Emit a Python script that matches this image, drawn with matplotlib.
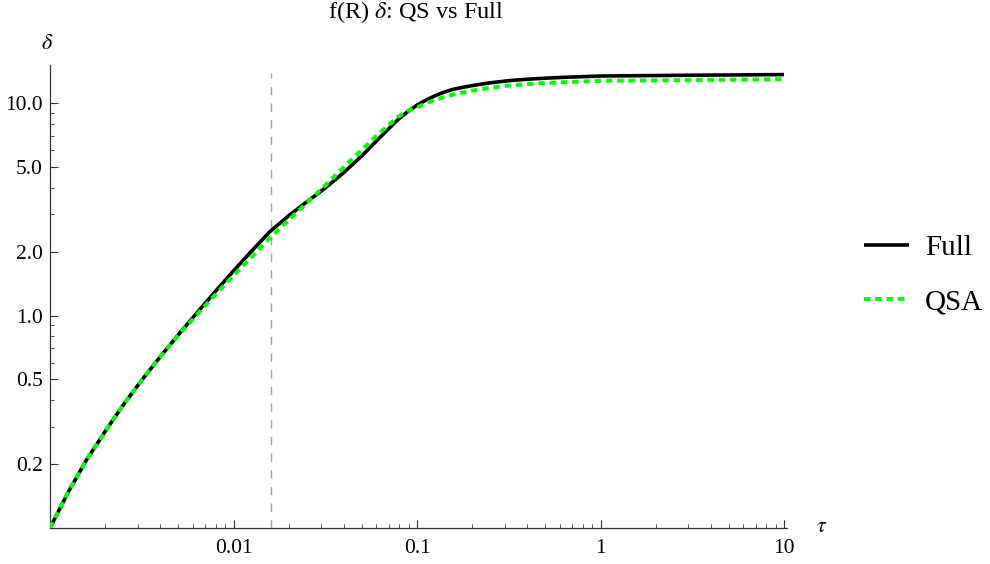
import matplotlib
matplotlib.use("Agg")
import matplotlib.pyplot as plt
from matplotlib.ticker import FixedLocator, FixedFormatter, NullFormatter

# growth of delta vs tau, full solution and quasi-static approximation
tau = [0.001, 0.00126, 0.00158, 0.002, 0.00251, 0.00316, 0.00398, 0.00501,
       0.00631, 0.00794, 0.01, 0.0126, 0.0158, 0.02, 0.0251, 0.0316, 0.0398,
       0.0501, 0.0631, 0.0794, 0.0891, 0.1, 0.112, 0.126, 0.141, 0.158,
       0.178, 0.2, 0.251, 0.316, 0.398, 0.501, 0.631, 1.0, 3.16, 10.0]

delta_full = [0.1, 0.148, 0.209, 0.285, 0.380, 0.496, 0.638, 0.813,
              1.028, 1.294, 1.622, 2.018, 2.483, 2.951, 3.428, 3.981, 4.699,
              5.649, 6.918, 8.414, 9.12, 9.772, 10.33, 10.84, 11.27, 11.61,
              11.86, 12.08, 12.45, 12.74, 12.94, 13.09, 13.21, 13.40, 13.52, 13.61]

delta_qsa = [0.1, 0.148, 0.209, 0.285, 0.380, 0.496, 0.638, 0.807,
             1.009, 1.250, 1.542, 1.892, 2.317, 2.818, 3.388, 4.093, 4.977,
             6.026, 7.278, 8.650, 9.183, 9.550, 9.954, 10.35, 10.69, 10.96,
             11.22, 11.43, 11.80, 12.08, 12.27, 12.42, 12.53, 12.71, 12.82, 12.94]

tau_mark = 0.0161

x_major = [0.01, 0.1, 1, 10]
x_major_labels = ["0.01", "0.1", "1", "10"]
y_major = [0.2, 0.5, 1.0, 2.0, 5.0, 10.0]
y_major_labels = ["0.2", "0.5", "1.0", "2.0", "5.0", "10.0"]
y_minor = [0.3, 0.4, 0.6, 0.7, 0.8, 0.9, 3, 4, 6, 7, 8, 9]

plt.rcParams["font.family"] = "Liberation Serif"
plt.rcParams["mathtext.fontset"] = "stix"

fig = plt.figure(figsize=(9.9, 5.64), dpi=100)
ax = fig.add_axes([50 / 990, 1 - 528 / 564, 737 / 990, 463 / 564])
ax.set_xscale("log")
ax.set_yscale("log")
ax.set_xlim(0.001, 10.38)
ax.set_ylim(0.1, 15.1)

ax.vlines(tau_mark, 0.1, 13.8, colors="#a0a0a0", linewidth=1.0,
          linestyles=(0, (6, 6)), zorder=1)

ax.plot(tau, delta_full, color="black", linewidth=2.6,
        solid_capstyle="butt", solid_joinstyle="round", label="Full", zorder=2)
ax.plot(tau, delta_qsa, color="#00ff00", linewidth=2.9,
        dashes=(1.6, 1.2), dash_capstyle="butt", label="QSA", zorder=3)

for side in ["top", "right"]:
    ax.spines[side].set_visible(False)
for side in ["left", "bottom"]:
    ax.spines[side].set_linewidth(0.9)
    ax.spines[side].set_color("#333333")

ax.xaxis.set_major_locator(FixedLocator(x_major))
ax.xaxis.set_major_formatter(FixedFormatter(x_major_labels))
ax.xaxis.set_minor_formatter(NullFormatter())
ax.yaxis.set_major_locator(FixedLocator(y_major))
ax.yaxis.set_major_formatter(FixedFormatter(y_major_labels))
ax.yaxis.set_minor_locator(FixedLocator(y_minor))
ax.yaxis.set_minor_formatter(NullFormatter())

ax.tick_params(which="both", direction="in", color="#333333", labelsize=15.5)
ax.tick_params(axis="x", which="major", pad=8)
ax.tick_params(axis="y", which="major", pad=5)
ax.tick_params(which="major", length=6, width=0.8)
ax.tick_params(which="minor", length=3, width=0.6)

ax.text(-0.004, 1.0 + 21 / 463, r"$\delta$", transform=ax.transAxes,
        fontsize=16, ha="center", va="center")
ax.text(1.04, 0.0, r"$\tau$", transform=ax.transAxes, fontsize=16,
        ha="left", va="center")

fig.text(416 / 990, 1 - 12 / 564, r"f(R) $\delta$: QS vs Full", fontsize=17.5,
         ha="center", va="center")

fig.legend(loc="center left", bbox_to_anchor=(864 / 990, 1 - 275 / 564),
           frameon=False, fontsize=21, handlelength=1.55, handletextpad=0.55,
           labelspacing=0.97, borderpad=0, borderaxespad=0)

fig.savefig("out.png", dpi=100)
